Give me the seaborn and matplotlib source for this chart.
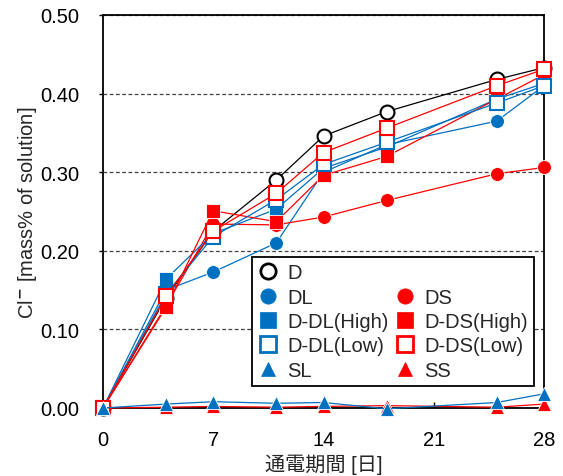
import matplotlib
matplotlib.use("Agg")
import matplotlib.pyplot as plt
from matplotlib.lines import Line2D
import seaborn as sns

# Chloride concentration in the solution over the current-application period
days = [0, 4, 7, 11, 14, 18, 25, 28]

D = [0.0, 0.140, 0.225, 0.290, 0.346, 0.377, 0.418, 0.433]
DL = [0.0, 0.150, 0.173, 0.210, 0.300, 0.335, 0.365, 0.410]
DS = [0.0, 0.130, 0.234, 0.233, 0.243, 0.264, 0.298, 0.306]
D_DL_High = [0.0, 0.164, 0.222, 0.253, 0.305, 0.332, 0.393, 0.413]
D_DS_High = [0.0, 0.128, 0.251, 0.237, 0.296, 0.320, 0.393, 0.424]
D_DL_Low = [0.0, 0.145, 0.218, 0.265, 0.310, 0.338, 0.388, 0.410]
D_DS_Low = [0.0, 0.142, 0.225, 0.273, 0.325, 0.356, 0.410, 0.431]
SL = [0.0, 0.005, 0.008, 0.006, 0.007, -0.001, 0.007, 0.018]
SS = [0.0, 0.001, 0.002, 0.001, 0.002, 0.003, 0.001, 0.005]

x_ticks = [0, 7, 14, 21, 28]
y_ticks = [0.0, 0.1, 0.2, 0.3, 0.4, 0.5]
y_tick_labels = ["0.00", "0.10", "0.20", "0.30", "0.40", "0.50"]

BLUE = "#0070C0"
RED = "#FF0000"
BLACK = "#000000"
WHITE = "#FFFFFF"

sns.set_style("white")
plt.rcParams["font.family"] = ["Liberation Sans", "Noto Sans CJK JP", "DejaVu Sans"]
plt.rcParams["mathtext.fontset"] = "custom"
plt.rcParams["mathtext.rm"] = "Liberation Sans"
plt.rcParams["mathtext.it"] = "Liberation Sans:italic"

FS = 14.5

fig = plt.figure(figsize=(5.63, 4.77), dpi=100)
ax = fig.add_axes([103 / 563, 1 - 409 / 477, 441 / 563, 393 / 477])

# label, values, colour, marker, filled, marker size
series = [
    ("D", D, BLACK, "o", False, 10),
    ("DL", DL, BLUE, "o", True, 10),
    ("DS", DS, RED, "o", True, 10),
    ("D-DL(High)", D_DL_High, BLUE, "s", True, 10),
    ("D-DS(High)", D_DS_High, RED, "s", True, 10),
    ("D-DL(Low)", D_DL_Low, BLUE, "s", False, 10),
    ("D-DS(Low)", D_DS_Low, RED, "s", False, 10),
    ("SS", SS, RED, "^", True, 9.5),
    ("SL", SL, BLUE, "^", True, 9.5),
]

handles = {}
for i, (label, vals, col, mk, filled, ms) in enumerate(series):
    face = col if filled else WHITE
    mew = 0.6 if filled else 1.5
    edge = WHITE if filled else col
    sns.lineplot(
        x=days, y=vals, ax=ax, color=col, linewidth=0.9,
        marker=mk, markersize=ms, markerfacecolor=face,
        markeredgecolor=edge, markeredgewidth=mew,
        clip_on=False, zorder=3 + i, legend=False,
    )
    handles[label] = Line2D(
        [], [], linestyle="", marker=mk, markersize=ms + 1,
        markerfacecolor=face, markeredgecolor=col,
        markeredgewidth=2 if not filled else 0.5, label=label,
    )

blank = Line2D([], [], linestyle="", marker="", label=" ")
order = [handles["D"], handles["DL"], handles["D-DL(High)"], handles["D-DL(Low)"],
         handles["SL"], blank, handles["DS"], handles["D-DS(High)"],
         handles["D-DS(Low)"], handles["SS"]]

leg = ax.legend(
    handles=order, labels=[h.get_label() for h in order], ncol=2,
    loc="upper left", bbox_to_anchor=(0.338, 0.384), borderaxespad=0,
    frameon=True, fancybox=False, edgecolor=BLACK, framealpha=1,
    fontsize=FS, handlelength=1.0, handletextpad=0.45,
    columnspacing=0.3, labelspacing=0.27, borderpad=0.3,
)
leg.get_frame().set_linewidth(1.3)
leg.set_zorder(20)

ax.set_xlim(0, 28)
ax.set_ylim(0, 0.5)
ax.set_xticks(x_ticks)
ax.set_yticks(y_ticks)
ax.set_yticklabels(y_tick_labels)

ax.yaxis.grid(True, linestyle=(0, (3, 2)), color="#404040", linewidth=0.9)
ax.xaxis.grid(False)
ax.set_axisbelow(True)

for sp in ax.spines.values():
    sp.set_color(BLACK)
    sp.set_linewidth(1.3)

ax.tick_params(axis="x", direction="in", length=4, width=1, pad=16,
               labelsize=FS, colors=BLACK, bottom=True)
ax.tick_params(axis="y", direction="out", length=3, width=1, pad=14,
               labelsize=FS, colors=BLACK, left=True)

ax.set_ylabel(r"Cl$^{\mathbf{-}}$ [mass% of solution]", fontsize=FS, labelpad=1)
ax.set_xlabel("通電期間 [日]", fontsize=FS, labelpad=3,
              family=["Liberation Sans", "Noto Sans CJK JP"])

fig.savefig("out.png", dpi=100)
